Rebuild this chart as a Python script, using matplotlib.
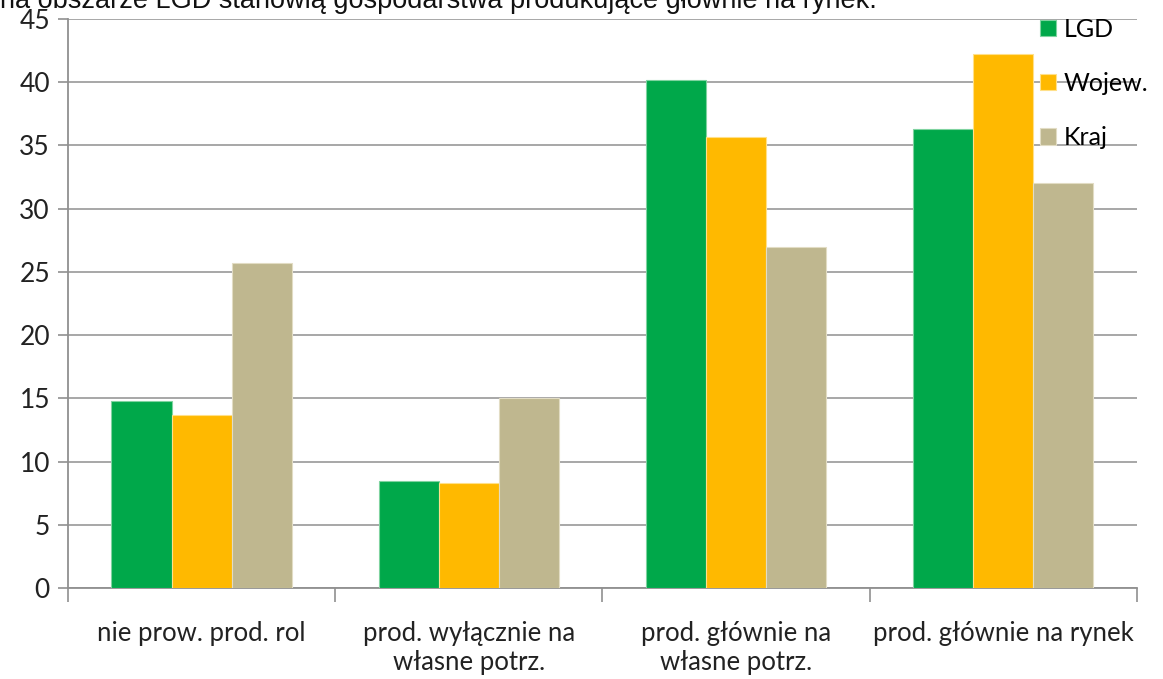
import numpy as np
import matplotlib.pyplot as plt

# ---------------------------------------------------------------------------
# Data (percent of farms)
# ---------------------------------------------------------------------------
categories = [
    "nie prow. prod. rol",
    "prod. wyłącznie na\nwłasne potrz.",
    "prod. głównie na\nwłasne potrz.",
    "prod. głównie na rynek",
]
series_names = ["LGD", "Wojew.", "Kraj"]
lgd = [14.8, 8.5, 40.2, 36.3]
wojew = [13.7, 8.3, 35.7, 42.2]
kraj = [25.7, 15.0, 27.0, 32.0]
y_ticks = [0, 5, 10, 15, 20, 25, 30, 35, 40, 45]

colors = ["#00A84A", "#FFB900", "#BFB78F"]
edges = ["#7FD3A0", "#FFE08A", "#E2DCC4"]

plt.rcParams["font.family"] = ["Lato", "DejaVu Sans"]

fig = plt.figure(figsize=(11.63, 6.79), dpi=100)
ax = fig.add_axes([0.0585, 0.134, 0.919, 0.838])

x = np.arange(len(categories))
width = 0.225
for i, (vals, name) in enumerate(zip([lgd, wojew, kraj], series_names)):
    ax.bar(x + (i - 1) * width, vals, width, color=colors[i], edgecolor=edges[i],
           linewidth=0.8, label=name, zorder=3)

ax.set_xlim(-0.5, len(categories) - 0.5)
ax.set_ylim(0, 45)
ax.set_yticks(y_ticks)
ax.set_yticklabels([str(t) for t in y_ticks], fontsize=19, color="#222222")
ax.yaxis.grid(True, color="#A0A0A0", linewidth=1.3, zorder=0)

# category labels centred, tick marks on category boundaries
ax.set_xticks(x)
ax.set_xticklabels(categories, fontsize=18.5, color="#222222", linespacing=1.2)
ax.tick_params(axis="x", length=0, pad=24)
ax.set_xticks(np.arange(-0.5, len(categories)), minor=True)
ax.tick_params(axis="x", which="minor", length=10, color="#909090", width=1.2)
ax.tick_params(axis="y", length=7, color="#909090", width=1.2, pad=6)

for side in ["top", "right"]:
    ax.spines[side].set_visible(False)
for side in ["left", "bottom"]:
    ax.spines[side].set_color("#909090")
    ax.spines[side].set_linewidth(1.3)

leg = ax.legend(loc="upper left", bbox_to_anchor=(0.9, 1.02), frameon=False,
                fontsize=18, handlelength=0.65, handleheight=0.65, handletextpad=0.3,
                labelspacing=1.25, borderaxespad=0)

fig.text(0.0, 1 - 8 / 679, "na obszarze LGD stanowią gospodarstwa produkujące głównie na rynek.",
         fontsize=19.5, family="Liberation Sans", va="baseline", ha="left", color="#111111")

fig.savefig("out.png", dpi=100)
